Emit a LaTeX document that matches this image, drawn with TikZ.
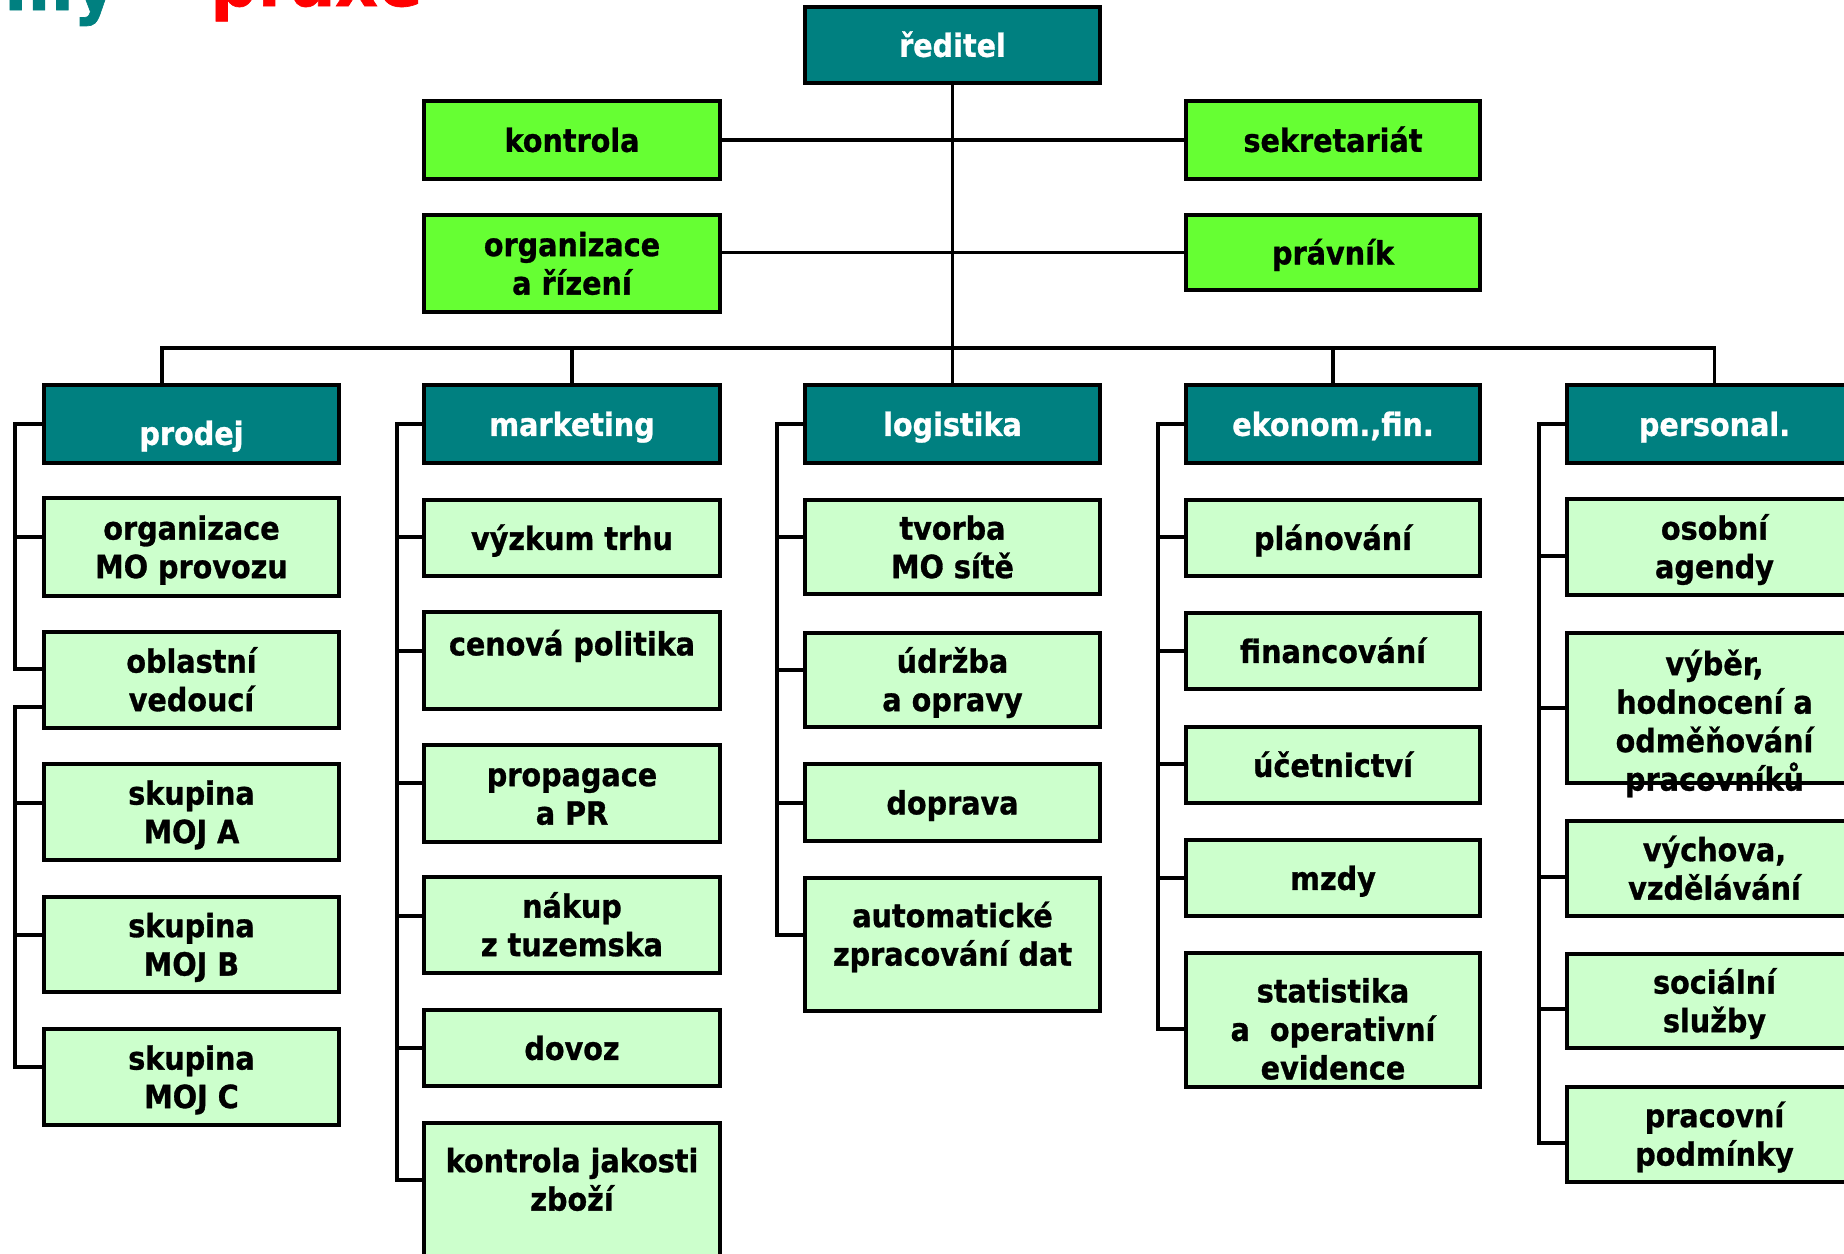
\documentclass[tikz,border=0pt]{standalone}
\usepackage{fontspec}
\setmainfont{DejaVu Sans}[FakeStretch=0.895, BoldFeatures={FakeBold=0.9}]
\definecolor{tealc}{HTML}{008080}
\definecolor{staffg}{HTML}{66FF33}
\definecolor{lightg}{HTML}{CCFFCC}
\newcommand\st{\rule[-3.7pt]{0pt}{19.25pt}}
% name, box style, text style, x1, y1, x2, y2, text dy (px, down), text
\newcommand\bx[9]{\node[#2, minimum width={(#6-#4)*0.5pt}, minimum height={(#7-#5)*0.5pt},
  label={[txt,#3,yshift={-(#8)*0.5pt}]center:{\st #9\st}}] (#1) at ({(#4+#6)/2},{(#5+#7)/2}) {};}
\tikzset{
  anybox/.style={draw=black, line width=1.75pt, rectangle, inner sep=0pt, outer sep=0pt},
  hdrbox/.style={anybox, fill=tealc},
  staffbox/.style={anybox, fill=staffg},
  subbox/.style={anybox, fill=lightg},
  txt/.style={font=\bfseries\fontsize{16}{19.25}\selectfont, align=center, inner sep=0pt},
  conn/.style={draw=black, line width=1.6pt},
  titletxt/.style={font=\bfseries\fontsize{37}{44}\selectfont, inner sep=0pt}
}
\begin{document}
\begin{tikzpicture}[x=0.5pt,y=-0.5pt]
\useasboundingbox (0,0) rectangle (1844,1254);
\fill[white] (0,0) rectangle (1844,1254);
\clip (0,0) rectangle (1844,1254);
% title remnant
\node[titletxt, text=tealc, anchor=base east] (t1) at (117,10) {my};
\node[titletxt, text=red, anchor=base west] (t2) at (210,6) {praxe};
% top
\bx{reditel}{hdrbox}{text=white}{805}{7}{1100}{83}{0}{ředitel}
\bx{kontrola}{staffbox}{}{424}{101}{720}{179}{0}{kontrola}
\bx{sekretariat}{staffbox}{}{1186}{101}{1480}{179}{0}{sekretariát}
\bx{organizace}{staffbox}{}{424}{215}{720}{312}{0}{organizace\\a řízení}
\bx{pravnik}{staffbox}{}{1186}{215}{1480}{290}{0}{právník}
% headers
\bx{prodej}{hdrbox}{text=white}{44}{385}{339}{463}{9}{prodej}
\bx{marketing}{hdrbox}{text=white}{424}{385}{720}{463}{0}{marketing}
\bx{logistika}{hdrbox}{text=white}{805}{385}{1100}{463}{0}{logistika}
\bx{ekonom}{hdrbox}{text=white}{1186}{385}{1480}{463}{0}{ekonom.,fin.}
\bx{personal}{hdrbox}{text=white}{1567}{385}{1862}{463}{0}{personal.}
% column 1
\bx{orgmo}{subbox}{}{44}{498}{339}{596}{0}{organizace\\MO provozu}
\bx{oblastni}{subbox}{}{44}{632}{339}{728}{0}{oblastní\\vedoucí}
\bx{moja}{subbox}{}{44}{764}{339}{860}{0}{skupina\\MOJ A}
\bx{mojb}{subbox}{}{44}{897}{339}{992}{0}{skupina\\MOJ B}
\bx{mojc}{subbox}{}{44}{1029}{339}{1125}{0}{skupina\\MOJ C}
% column 2
\bx{vyzkum}{subbox}{}{424}{500}{720}{576}{0}{výzkum trhu}
\bx{cenova}{subbox}{}{424}{612}{720}{709}{-17}{cenová politika}
\bx{propagace}{subbox}{}{424}{745}{720}{842}{0}{propagace\\a PR}
\bx{nakup}{subbox}{}{424}{877}{720}{973}{0}{nákup\\z tuzemska}
\bx{dovoz}{subbox}{}{424}{1010}{720}{1086}{0}{dovoz}
\bx{kontrolaj}{subbox}{}{424}{1123}{720}{1262}{-13}{kontrola jakosti\\zboží}
% column 3
\bx{tvorba}{subbox}{}{805}{500}{1100}{594}{0}{tvorba\\MO sítě}
\bx{udrzba}{subbox}{}{805}{633}{1100}{727}{0}{údržba\\a opravy}
\bx{doprava}{subbox}{}{805}{764}{1100}{841}{0}{doprava}
\bx{automaticke}{subbox}{}{805}{878}{1100}{1011}{-10}{automatické\\zpracování dat}
% column 4
\bx{planovani}{subbox}{}{1186}{500}{1480}{576}{0}{plánování}
\bx{financovani}{subbox}{}{1186}{613}{1480}{689}{0}{financování}
\bx{ucetnictvi}{subbox}{}{1186}{727}{1480}{803}{0}{účetnictví}
\bx{mzdy}{subbox}{}{1186}{840}{1480}{916}{0}{mzdy}
\bx{statistika}{subbox}{}{1186}{953}{1480}{1087}{9}{statistika\\a\ \ operativní\\evidence}
% column 5
\bx{osobni}{subbox}{}{1567}{499}{1862}{595}{0}{osobní\\agendy}
\bx{vyber}{subbox}{}{1567}{633}{1862}{783}{13}{výběr,\\hodnocení a\\odměňování\\pracovníků}
\bx{vychova}{subbox}{}{1567}{821}{1862}{916}{0}{výchova,\\vzdělávání}
\bx{socialni}{subbox}{}{1567}{954}{1862}{1048}{0}{sociální\\služby}
\bx{pracovni}{subbox}{}{1567}{1087}{1862}{1182}{0}{pracovní\\podmínky}
% ---- connectors
\draw[conn] (reditel) -- (logistika);
\draw[conn] (kontrola) -- (sekretariat);
\draw[conn] (pravnik.west) -- (pravnik.west -| organizace.east);
\coordinate (busL) at (162,348);
\draw[conn] (busL |- prodej.north) -- (busL) -- (busL -| personal.north) -- (personal.north);
\draw[conn] (marketing.north) -- (marketing.north |- busL);
\draw[conn] (ekonom.north) -- (ekonom.north |- busL);
% column 1 brackets
\coordinate (p1) at (15,537);
\coordinate (p2) at (15,669);
\coordinate (p3) at (15,707);
\coordinate (p4) at (15,803);
\coordinate (p5) at (15,935);
\coordinate (p6) at (15,1067);
\draw[conn] (prodej.west) -| (p2) -- (p2 -| oblastni.west);
\draw[conn] (p1) -- (p1 -| orgmo.west);
\draw[conn] (p3 -| oblastni.west) -- (p3) -- (p6) -- (p6 -| mojc.west);
\draw[conn] (p4) -- (p4 -| moja.west);
\draw[conn] (p5) -- (p5 -| mojb.west);
% column 2
\coordinate (m1) at (397,537);
\coordinate (m2) at (397,651);
\coordinate (m3) at (397,783);
\coordinate (m4) at (397,916);
\coordinate (m5) at (397,1048);
\coordinate (m6) at (397,1180);
\draw[conn] (marketing.west) -| (m6) -- (m6 -| kontrolaj.west);
\foreach \c/\n in {m1/vyzkum, m2/cenova, m3/propagace, m4/nakup, m5/dovoz}
  \draw[conn] (\c) -- (\c -| \n.west);
% column 3
\coordinate (l1) at (777,537);
\coordinate (l2) at (777,670);
\coordinate (l3) at (777,803);
\coordinate (l4) at (777,935);
\draw[conn] (logistika.west) -| (l4) -- (l4 -| automaticke.west);
\foreach \c/\n in {l1/tvorba, l2/udrzba, l3/doprava}
  \draw[conn] (\c) -- (\c -| \n.west);
% column 4
\coordinate (e1) at (1158,537);
\coordinate (e2) at (1158,651);
\coordinate (e3) at (1158,764);
\coordinate (e4) at (1158,878);
\coordinate (e5) at (1158,1029);
\draw[conn] (ekonom.west) -| (e5) -- (e5 -| statistika.west);
\foreach \c/\n in {e1/planovani, e2/financovani, e3/ucetnictvi, e4/mzdy}
  \draw[conn] (\c) -- (\c -| \n.west);
% column 5
\coordinate (s1) at (1539,556);
\coordinate (s2) at (1539,708);
\coordinate (s3) at (1539,877);
\coordinate (s4) at (1539,1009);
\coordinate (s5) at (1539,1143);
\draw[conn] (personal.west) -| (s5) -- (s5 -| pracovni.west);
\foreach \c/\n in {s1/osobni, s2/vyber, s3/vychova, s4/socialni}
  \draw[conn] (\c) -- (\c -| \n.west);
\end{tikzpicture}
\end{document}
